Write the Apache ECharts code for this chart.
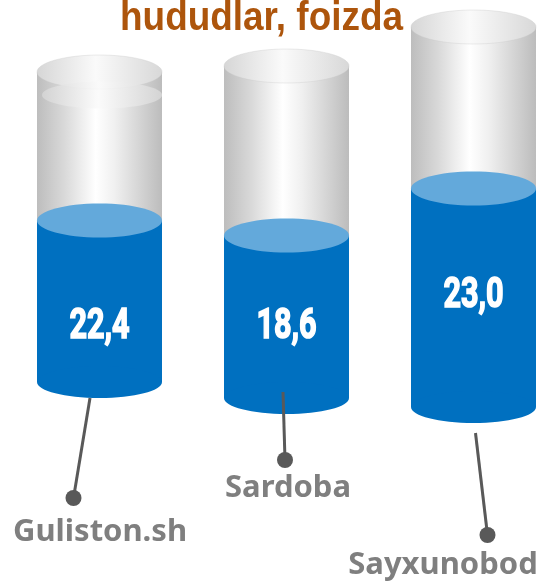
<!DOCTYPE html>
<html>
<head>
<meta charset="utf-8">
<script src="https://cdn.jsdelivr.net/npm/echarts@6/dist/echarts.min.js"></script>
<style>
  html, body { margin: 0; padding: 0; background: #fff; }
  #main { width: 545px; height: 583px; }
</style>
</head>
<body>
<div id="main"></div>
<script>
var categories = ['Guliston.sh', 'Sardoba', 'Sayxunobod'];
var values = [22.4, 18.6, 23.0];
var titleText = 'hududlar, foizda';

// the picture is not drawn to one scale, so every cylinder gets its own grid / y range
var cylLayout = [
  { left: 37,  top: 72, height: 310, max: 43, rim: true,  valueDy: 26,   line: [-9.5, 16], dot: [-26, 116], label: [0.5, 150] },
  { left: 224, top: 66, height: 332, max: 38, rim: false, valueDy: 10.5, line: [-3.5, -6], dot: [-1.5, 62], label: [1.5, 90.5] },
  { left: 411, top: 27, height: 380, max: 40, rim: false, valueDy: -1,   line: [2, 26],    dot: [14, 128],  label: [-30.5, 158] }
];

var chart = echarts.init(document.getElementById('main'));

function glassBody() {
  return new echarts.graphic.LinearGradient(0, 0, 1, 0, [
    { offset: 0, color: '#bdbdbd' },
    { offset: 0.22, color: '#d9d9d9' },
    { offset: 0.47, color: '#ffffff' },
    { offset: 0.62, color: '#f0f0f0' },
    { offset: 1, color: '#bcbcbc' }
  ]);
}
function glassTop() {
  return new echarts.graphic.LinearGradient(0, 0, 1, 0, [
    { offset: 0, color: '#d6d6d6' },
    { offset: 0.47, color: '#fafafa' },
    { offset: 1, color: '#d8d8d8' }
  ]);
}

function makeRender(i) {
  var lay = cylLayout[i];
  return function (params, api) {
    var base = api.coord([0, 0]);
    var fill = api.coord([0, api.value(1)]);
    var cs = params.coordSys;
    var cx = base[0];
    var rx = cs.width / 2;
    var ry = 17;
    var topY = cs.y;
    var blueY = fill[1];
    var botY = base[1];
    var txt = values[i].toFixed(1).replace('.', ',');

    var kids = [];
    // glass part
    kids.push({ type: 'rect', shape: { x: cx - rx, y: topY, width: rx * 2, height: blueY - topY }, style: { fill: glassBody() } });
    kids.push({ type: 'ellipse', shape: { cx: cx, cy: topY, rx: rx, ry: ry }, style: { fill: glassTop(), stroke: 'rgba(200,200,200,0.35)', lineWidth: 1 } });
    if (lay.rim) {
      kids.push({ type: 'ellipse', shape: { cx: cx + 2.5, cy: topY + 23, rx: rx - 2.5, ry: 13.5 }, style: { fill: glassTop(), opacity: 0.85 } });
    }
    // blue part
    kids.push({ type: 'rect', shape: { x: cx - rx, y: blueY, width: rx * 2, height: botY - blueY }, style: { fill: '#0070c0' } });
    kids.push({ type: 'ellipse', shape: { cx: cx, cy: botY, rx: rx, ry: 16 }, style: { fill: '#0070c0' } });
    kids.push({ type: 'ellipse', shape: { cx: cx, cy: blueY, rx: rx, ry: ry }, style: { fill: '#63a9db' } });
    kids.push({
      type: 'text', x: cx, y: (blueY + botY) / 2 + lay.valueDy, scaleX: 0.9, scaleY: 1.25,
      style: {
        text: txt, fill: '#ffffff', stroke: '#ffffff', lineWidth: 1.3,
        fontSize: 34, fontWeight: 'bold', fontFamily: 'Roboto', align: 'center', verticalAlign: 'middle'
      }
    });
    // pin with category name
    kids.push({
      type: 'line',
      shape: { x1: cx + lay.line[0], y1: botY + lay.line[1], x2: cx + lay.dot[0], y2: botY + lay.dot[1] },
      style: { stroke: '#595959', lineWidth: 3 }
    });
    kids.push({ type: 'circle', shape: { cx: cx + lay.dot[0], cy: botY + lay.dot[1], r: 8 }, style: { fill: '#595959' } });
    kids.push({
      type: 'text', x: cx + lay.label[0], y: botY + lay.label[1],
      style: { text: categories[i], fill: '#7f7f7f', fontSize: 31, fontWeight: 'bold', fontFamily: 'Noto Sans', align: 'center', verticalAlign: 'middle' }
    });
    return { type: 'group', children: kids };
  };
}

var grids = [], xAxes = [], yAxes = [], series = [];
for (var i = 0; i < categories.length; i++) {
  var lay = cylLayout[i];
  grids.push({ left: lay.left, top: lay.top, width: 125, height: lay.height });
  xAxes.push({ gridIndex: i, type: 'category', data: [categories[i]], show: false });
  yAxes.push({ gridIndex: i, type: 'value', min: 0, max: lay.max, show: false });
  series.push({
    type: 'custom',
    xAxisIndex: i,
    yAxisIndex: i,
    clip: false,
    silent: true,
    renderItem: makeRender(i),
    data: [[0, values[i]]]
  });
}

chart.setOption({
  animation: false,
  backgroundColor: '#ffffff',
  graphic: [{
    type: 'text',
    x: 261.5,
    y: 19,
    scaleX: 0.9,
    z: 10,
    style: { text: titleText, fill: '#ad550c', fontSize: 41, fontWeight: 'bold', fontFamily: 'Liberation Sans', align: 'center', verticalAlign: 'middle' }
  }],
  grid: grids,
  xAxis: xAxes,
  yAxis: yAxes,
  series: series
});
</script>
</body>
</html>
